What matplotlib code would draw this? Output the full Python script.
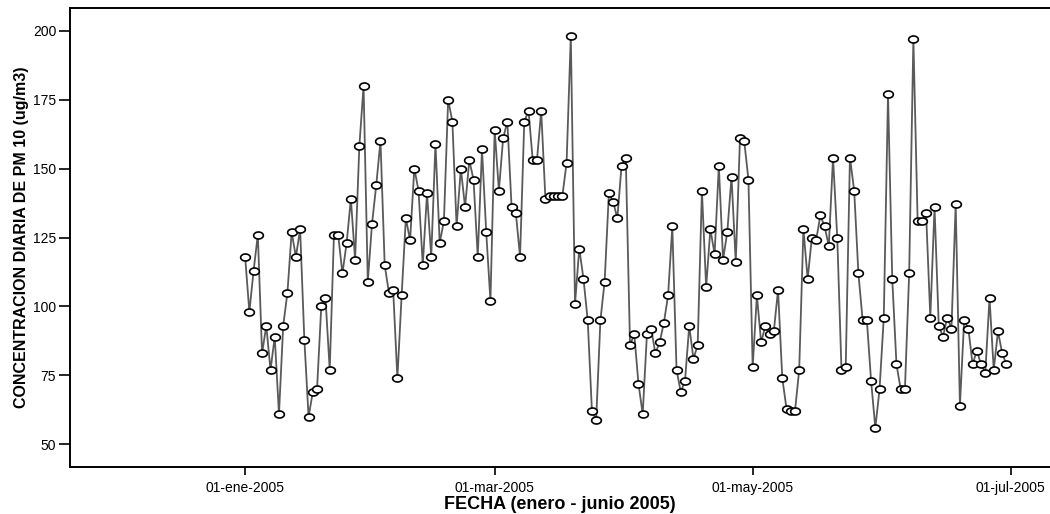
import numpy as np
import pandas as pd
import matplotlib
matplotlib.use("Agg")
import matplotlib.pyplot as plt

plt.rcParams['font.family'] = ['Liberation Sans', 'DejaVu Sans']

# daily PM10, 01-ene-2005 .. 30-jun-2005
pm10 = [
    118, 98, 113, 126, 83, 93, 77, 89, 61, 93,
    105, 127, 118, 128, 88, 60, 69, 70, 100, 103,
    77, 126, 126, 112, 123, 139, 117, 158, 180, 109,
    130, 144, 160, 115, 105, 106, 74, 104, 132, 124,
    150, 142, 115, 141, 118, 159, 123, 131, 175, 167,
    129, 150, 136, 153, 146, 118, 157, 127, 102, 164,
    142, 161, 167, 136, 134, 118, 167, 171, 153, 153,
    171, 139, 140, 140, 140, 140, 152, 198, 101, 121,
    110, 95, 62, 59, 95, 109, 141, 138, 132, 151,
    154, 86, 90, 72, 61, 90, 92, 83, 87, 94,
    104, 129, 77, 69, 73, 93, 81, 86, 142, 107,
    128, 119, 151, 117, 127, 147, 116, 161, 160, 146,
    78, 104, 87, 93, 90, 91, 106, 74, 63, 62,
    62, 77, 128, 110, 125, 124, 133, 129, 122, 154,
    125, 77, 78, 154, 142, 112, 95, 95, 73, 56,
    70, 96, 177, 110, 79, 70, 70, 112, 197, 131,
    131, 134, 96, 136, 93, 89, 96, 92, 137, 64,
    95, 92, 79, 84, 79, 76, 103, 77, 91, 83,
    79,
]
fechas = pd.date_range("2005-01-01", periods=len(pm10), freq="D")

tick_dates = pd.to_datetime(["2005-01-01", "2005-03-01", "2005-05-01", "2005-07-01"])
tick_labels = ["01-ene-2005", "01-mar-2005", "01-may-2005", "01-jul-2005"]
y_ticks = [50, 75, 100, 125, 150, 175, 200]

# slightly flattened open circle like the original marker
t = np.linspace(0, 2 * np.pi, 40)
ellipse = np.column_stack([np.cos(t), 0.72 * np.sin(t)])

fig = plt.figure(figsize=(10.5, 5.14), dpi=100)
ax = fig.add_axes([0.0667, 0.0914, 0.9333, 0.8930])

ax.plot(fechas, pm10, color="#5a5a5a", linewidth=1.3, zorder=2)
ax.plot(fechas, pm10, linestyle="none", marker=ellipse, markersize=7,
        markerfacecolor="white", markeredgecolor="black", markeredgewidth=1.2, zorder=3)

ax.set_xlim(pd.Timestamp("2005-01-01") - pd.Timedelta(days=41.4),
            pd.Timestamp("2005-01-01") + pd.Timedelta(days=190.3))
ax.set_ylim(41.8, 208.2)

ax.set_xticks(tick_dates)
ax.set_xticklabels(tick_labels, fontsize=10)
ax.set_yticks(y_ticks)
ax.set_yticklabels([str(v) for v in y_ticks], fontsize=10)
ax.tick_params(axis='x', direction='out', length=6, width=1.2, color='black', pad=4)
ax.tick_params(axis='y', direction='out', length=8, width=1.2, color='black', pad=2)

ax.spines['right'].set_visible(False)
for s in ['left', 'top', 'bottom']:
    ax.spines[s].set_linewidth(1.4)

ax.set_xlabel("FECHA (enero - junio 2005)", fontsize=13, fontweight='bold', labelpad=1)
ax.set_ylabel("CONCENTRACION DIARIA DE PM 10 (ug/m3)", fontsize=11.5, fontweight='bold', labelpad=3)

fig.savefig("out.png", dpi=100)
